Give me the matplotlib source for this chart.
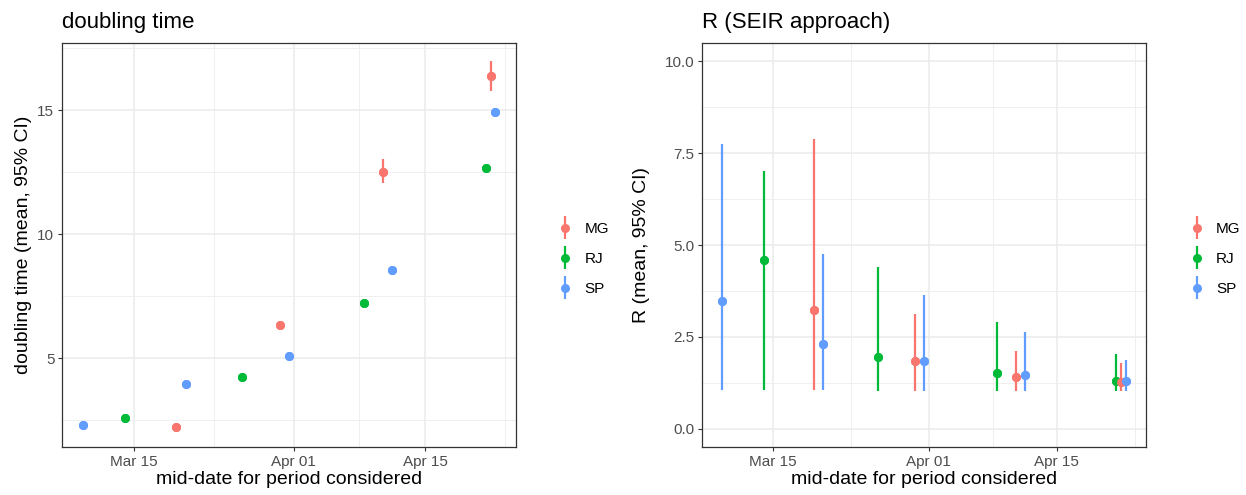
import numpy as np
import pandas as pd
import matplotlib
matplotlib.use("Agg")
import matplotlib.pyplot as plt
import matplotlib.dates as mdates
from matplotlib.ticker import MultipleLocator, FixedLocator
from matplotlib.legend_handler import HandlerErrorbar

plt.rcParams['font.family'] = ['Liberation Sans', 'DejaVu Sans']

# data
states = ["SP", "RJ", "MG", "SP", "RJ", "MG", "SP", "RJ", "MG", "SP", "RJ", "MG", "SP"]
mid_dates = ["2020-03-09 12:00", "2020-03-14 00:00", "2020-03-19 12:00", "2020-03-20 12:00",
             "2020-03-26 12:00", "2020-03-30 12:00", "2020-03-31 12:00", "2020-04-08 12:00",
             "2020-04-10 12:00", "2020-04-11 12:00", "2020-04-21 12:00", "2020-04-22 00:00",
             "2020-04-22 12:00"]

dbl_mean = [2.29, 2.57, 2.21, 3.97, 4.22, 6.35, 5.09, 7.22, 12.52, 8.55, 12.65, 16.36, 14.93]
dbl_low = [2.22, 2.50, 2.15, 3.90, 4.15, 6.25, 5.02, 7.12, 12.06, 8.45, 12.55, 15.76, 14.83]
dbl_high = [2.36, 2.64, 2.27, 4.04, 4.29, 6.45, 5.16, 7.32, 13.03, 8.65, 12.75, 16.97, 15.03]

r_mean = [3.48, 4.58, 3.23, 2.30, 1.94, 1.84, 1.83, 1.52, 1.41, 1.46, 1.29, 1.27, 1.29]
r_low = [1.06, 1.06, 1.06, 1.05, 1.03, 1.03, 1.03, 1.03, 1.03, 1.03, 1.03, 1.03, 1.03]
r_high = [7.74, 7.02, 7.88, 4.76, 4.39, 3.11, 3.65, 2.89, 2.12, 2.62, 2.03, 1.80, 1.86]

state_order = ["MG", "RJ", "SP"]
colors = {"MG": "#F8766D", "RJ": "#00BA38", "SP": "#619CFF"}

major_dates = ["2020-03-15", "2020-04-01", "2020-04-15"]

dates = mdates.date2num(pd.to_datetime(mid_dates))
states = np.array(states)
major = mdates.date2num(pd.to_datetime(major_dates))
# ggplot-style minor breaks: midpoints of majors extended by one step each side
ext = np.concatenate([[major[0] - (major[1] - major[0])], major, [major[-1] + (major[1] - major[0])]])
minor = (ext[:-1] + ext[1:]) / 2

fig = plt.figure(figsize=(12.46, 4.95), dpi=100)
ax1 = fig.add_axes([62 / 1246, 1 - 447 / 495, 454 / 1246, 404 / 495])
ax2 = fig.add_axes([702.3 / 1246, 1 - 447 / 495, 443.4 / 1246, 404 / 495])


def draw_panel(ax, mean, low, high, title, ylabel, ylim, ystep, labelpad, leg_x):
    mean = np.array(mean)
    low = np.array(low)
    high = np.array(high)
    for st in state_order:
        m = states == st
        ax.errorbar(dates[m], mean[m], yerr=[mean[m] - low[m], high[m] - mean[m]],
                    fmt='o', color=colors[st], ms=6.5, elinewidth=1.6, capsize=0,
                    markeredgewidth=0, label=st)
    # draw in data order so later points sit on top
    for i in range(len(dates)):
        ax.plot(dates[i], mean[i], 'o', color=colors[states[i]], ms=6.5, mew=0, zorder=3)

    span = dates.max() - dates.min()
    ax.set_xlim(dates.min() - 0.05 * span, dates.max() + 0.05 * span)
    yspan = ylim[1] - ylim[0]
    ax.set_ylim(ylim[0] - 0.05 * yspan, ylim[1] + 0.05 * yspan)

    ax.xaxis.set_major_locator(FixedLocator(major))
    ax.xaxis.set_minor_locator(FixedLocator(minor))
    ax.xaxis.set_major_formatter(mdates.DateFormatter("%b %d"))
    ax.yaxis.set_major_locator(MultipleLocator(ystep))
    ax.yaxis.set_minor_locator(MultipleLocator(ystep / 2))

    ax.set_axisbelow(True)
    ax.grid(which='major', color='#EBEBEB', lw=1.1)
    ax.grid(which='minor', color='#EDEDED', lw=0.6)
    for sp in ax.spines.values():
        sp.set_color('#333333')
        sp.set_linewidth(0.9)
    ax.tick_params(which='major', length=3, width=0.8, color='#333333',
                   labelcolor='#4D4D4D', labelsize=11, pad=2.5)
    ax.tick_params(which='minor', length=0)

    ax.set_title(title, loc='left', fontsize=16, pad=11)
    ax.set_xlabel("mid-date for period considered", fontsize=14, labelpad=2)
    ax.set_ylabel(ylabel, fontsize=14, labelpad=labelpad)

    ax.legend(loc='center left', bbox_to_anchor=(leg_x, 0.465), frameon=False,
              fontsize=11, handlelength=1.0, handletextpad=0.75, labelspacing=1.05,
              borderpad=0, numpoints=1,
              handler_map={matplotlib.container.ErrorbarContainer: HandlerErrorbar(xerr_size=0.75)})


dbl_all = np.concatenate([dbl_low, dbl_high])
draw_panel(ax1, dbl_mean, dbl_low, dbl_high, "doubling time", "doubling time (mean, 95% CI)",
           (dbl_all.min(), dbl_all.max()), 5, 4, 1.075)
draw_panel(ax2, r_mean, r_low, r_high, "R (SEIR approach)", "R (mean, 95% CI)",
           (0, 10), 2.5, 11, 1.081)
ax2.yaxis.set_major_formatter(matplotlib.ticker.FormatStrFormatter('%.1f'))

fig.savefig("out.png", dpi=100)
